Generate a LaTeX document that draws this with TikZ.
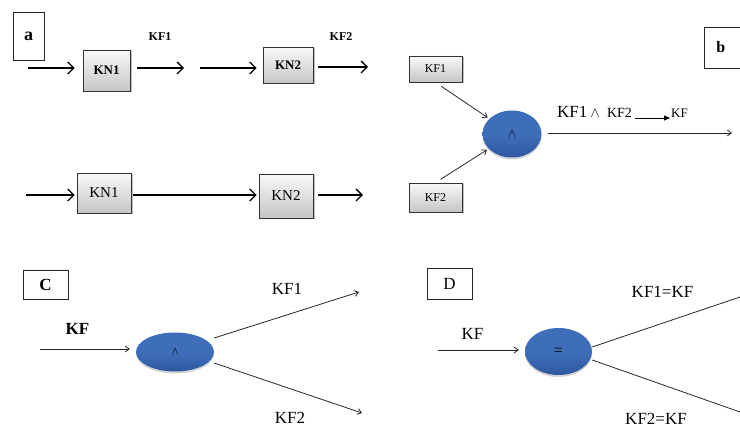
\documentclass[tikz,border=0pt]{standalone}
\usepackage{fontspec}
\setmainfont{Liberation Serif}
\usetikzlibrary{arrows.meta,shapes.geometric,shadows,calc}
\newcommand\fsz[1]{\fontsize{#1}{#1}\selectfont}
\definecolor{blobblue}{RGB}{62,110,186}
\definecolor{blobdark}{RGB}{46,88,160}
\begin{document}
\begin{tikzpicture}[x=1pt,y=-1pt,
  knbox/.style={draw=black!80, line width=0.8pt, top color=gray!5, bottom color=gray!45,
    drop shadow={shadow xshift=1.5pt, shadow yshift=-1.5pt, opacity=0.5}, inner sep=0pt},
  lblbox/.style={draw=black!85, line width=0.7pt, fill=white, inner sep=0pt},
  blob/.style={ellipse, inner sep=0pt, top color=blobblue, bottom color=blobdark,
    middle color=blobblue,
    drop shadow={shadow xshift=0pt, shadow yshift=-2pt, opacity=0.35}},
  bigarr/.style={line width=1.3pt, -{Straight Barb[length=6pt,width=12pt,line width=1.3pt]}},
  thinarr/.style={line width=0.8pt, black!85, -{Straight Barb[length=4pt,width=6pt]}},
  thinline/.style={line width=0.8pt, black!85},
  fillarr/.style={line width=0.9pt, -{Triangle[length=6pt,width=5pt]}}
]
\useasboundingbox (0,0) rectangle (740,427);

% ---------- panel a ----------
\node[lblbox, minimum width=31, minimum height=48] (boxa) at (28.5,36) {\fsz{18}\textbf{a}};

\node[knbox, minimum width=47, minimum height=41] (kn1a) at (106.5,70.5) {\fsz{13}\textbf{KN1}};
\node[knbox, minimum width=50, minimum height=36] (kn2a) at (288,65) {\fsz{13}\textbf{KN2}};
\coordinate (a1in) at (28,68);
\coordinate (a1out) at (184,68);
\coordinate (a2in) at (200,68);
\coordinate (a2out) at (368,67);
\draw[bigarr, shorten >=8pt] (a1in) -- (a1in -| kn1a.west);
\draw[bigarr, shorten <=7pt] (kn1a.east |- a1out) -- (a1out);
\draw[bigarr, shorten >=6pt] (a2in) -- (a2in -| kn2a.west);
\draw[bigarr, shorten <=5pt] (kn2a.east |- a2out) -- (a2out);
\node (kf1t) at (160,37) {\fsz{12}\textbf{KF1}};
\node (kf2t) at (341,37) {\fsz{12}\textbf{KF2}};

\node[knbox, minimum width=54, minimum height=40] (kn1b) at (104,193) {\fsz{15}KN1};
\node[knbox, minimum width=54, minimum height=44] (kn2b) at (286,196) {\fsz{15}KN2};
\coordinate (b1in) at (26,195);
\coordinate (b2out) at (363,195);
\draw[bigarr, shorten >=2pt] (b1in) -- (b1in -| kn1b.west);
\draw[bigarr, shorten <=2pt, shorten >=2pt] (kn1b.east |- b1in) -- (kn2b.west |- b1in);
\draw[bigarr, shorten <=5pt] (kn2b.east |- b2out) -- (b2out);

% ---------- panel b ----------
\node[knbox, minimum width=53, minimum height=26] (kf1b) at (435.5,69) {\fsz{12}KF1};
\node[knbox, minimum width=53, minimum height=29] (kf2b) at (435.5,197.5) {\fsz{12}KF2};
\node[blob, minimum width=59, minimum height=47] (orbb) at (512,134) {\fsz{13}$\wedge$};
\draw[thinarr, shorten <=7pt, shorten >=2pt] (kf1b.south) -- (orbb);
\draw[thinarr, shorten <=6pt, shorten >=2pt] (kf2b.north) -- (orbb);
\coordinate (bout) at (732,133);
\draw[thinarr, shorten <=6pt] (orbb.east |- bout) -- (bout);
\node[anchor=base west, inner sep=0pt] (blab) at (557,118)
  {\fsz{17}KF1\fsz{14}\hspace{3pt}$\wedge$\hspace{7pt}KF2};
\node[anchor=base west, inner sep=0pt] (bkf) at (671,118) {\fsz{13}KF};
\draw[fillarr, shorten <=3pt, shorten >=1pt] (blab.base east) -- (bkf.base west);
\begin{scope}
\clip (0,0) rectangle (740,427);
\node[lblbox, anchor=west, minimum width=60, minimum height=41, inner xsep=12pt,
  text width=36pt, align=left] (boxb) at (704,47.5) {\fsz{16}\textbf{b}};
\end{scope}

% ---------- panel C ----------
\node[lblbox, minimum width=45, minimum height=29] (boxc) at (45.5,284.5) {\fsz{17}\textbf{C}};
\node (kfc) at (77.5,329) {\fsz{17}\textbf{KF}};
\node[blob, minimum width=78, minimum height=39] (orbc) at (175,352) {\fsz{13}$\wedge$};
\coordinate (cin) at (40,349);
\coordinate (c1end) at (359,292);
\coordinate (c2end) at (362,413);
\draw[thinarr, shorten >=6pt] (cin) -- (cin -| orbc.west);
\draw[thinarr] ([yshift=14pt]orbc.east) -- (c1end);
\draw[thinarr] ([yshift=-11pt]orbc.east) -- (c2end);
\node (kf1c) at (287,289) {\fsz{17}KF1};
\node (kf2c) at (290,418) {\fsz{17}KF2};

% ---------- panel D ----------
\node[lblbox, minimum width=45, minimum height=31] (boxd) at (449.5,283.5) {\fsz{17}D};
\node (kfd) at (472.5,334) {\fsz{17}KF};
\node[blob, minimum width=67, minimum height=47] (orbd) at (558.5,351.5) {\fsz{16}=};
\coordinate (din) at (438,350);
\coordinate (d1end) at (740,297);
\coordinate (d2end) at (740,412);
\draw[thinarr, shorten >=6pt] (din) -- (din -| orbd.west);
\draw[thinline] ([yshift=4.5pt]orbd.east) -- (d1end);
\draw[thinline] ([yshift=-8.5pt]orbd.east) -- (d2end);
\node (kf1d) at (662.5,292) {\fsz{17}KF1=KF};
\node (kf2d) at (656,419) {\fsz{17}KF2=KF};
\end{tikzpicture}
\end{document}
